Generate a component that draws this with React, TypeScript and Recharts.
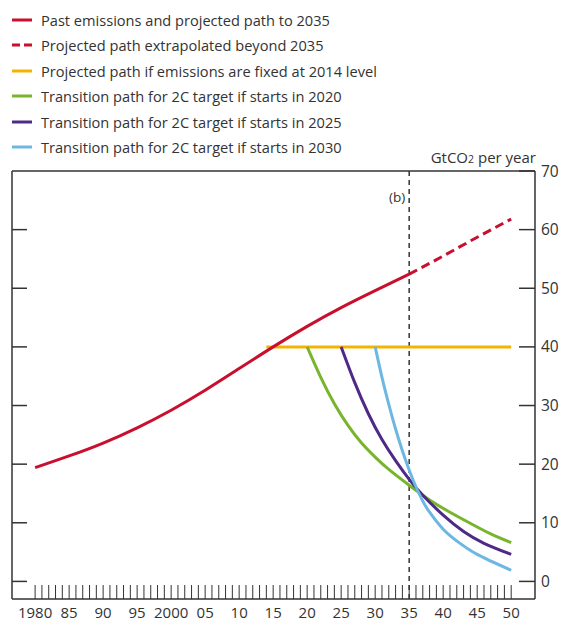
import { LineChart, Line, XAxis, YAxis, ReferenceLine } from 'recharts';

// emissions, GtCO2 per year
const pastYears = [1980, 1985, 1990, 1995, 2000, 2005, 2010, 2015, 2020, 2025, 2030, 2035];
const pastValues = [19.4, 21.4, 23.6, 26.2, 29.2, 32.6, 36.3, 40.0, 43.5, 46.7, 49.6, 52.4];

const extrapYears = [2035, 2040, 2045, 2050];
const extrapValues = [52.4, 55.5, 58.7, 61.8];

const fixedYears = [2014, 2050];
const fixedValues = [40, 40];

const start2020Years = [2020, 2022, 2024, 2026, 2028, 2030, 2032, 2035, 2038, 2041, 2044, 2047, 2050];
const start2020Values = [40.0, 34.8, 30.3, 26.6, 23.6, 21.2, 19.1, 16.4, 13.9, 11.8, 9.9, 8.1, 6.6];

const start2025Years = [2025, 2027, 2029, 2031, 2033, 2035, 2037, 2040, 2043, 2046, 2050];
const start2025Values = [40.0, 33.9, 28.6, 24.2, 20.6, 17.4, 14.7, 11.3, 8.5, 6.5, 4.6];

const start2030Years = [2030, 2031, 2032, 2033, 2034, 2035, 2036, 2037, 2038, 2040, 2042, 2045, 2050];
const start2030Values = [40.0, 34.8, 30.2, 26.0, 22.3, 19.0, 16.1, 13.7, 11.8, 8.9, 6.9, 4.6, 1.9];

const yearTicks = Array.from({ length: 71 }, (_, i) => 1980 + i);
const leftTicks = [0, 10, 20, 30, 40, 50, 60];
const rightTicks = [0, 10, 20, 30, 40, 50, 60, 70];

const RED = '#c8102e';
const YELLOW = '#f5b301';
const GREEN = '#78b52d';
const PURPLE = '#4e2a87';
const BLUE = '#6cb8e2';
const INK = '#333333';

const toPoints = (xs: number[], ys: number[]) => xs.map((year, i) => ({ year, value: ys[i] }));

const legendItems = [
    { label: 'Past emissions and projected path to 2035', color: RED, dashed: false },
    { label: 'Projected path extrapolated beyond 2035', color: RED, dashed: true },
    { label: 'Projected path if emissions are fixed at 2014 level', color: YELLOW, dashed: false },
    { label: 'Transition path for 2C target if starts in 2020', color: GREEN, dashed: false },
    { label: 'Transition path for 2C target if starts in 2025', color: PURPLE, dashed: false },
    { label: 'Transition path for 2C target if starts in 2030', color: BLUE, dashed: false },
];

const yearLabel = (y: number) => {
    if (y === 1980 || y === 2000) return String(y);
    return String(y % 100).padStart(2, '0');
};

const BottomTick = ({ x, y, payload }: any) => {
    const yr = payload.value;
    return (
        <g>
            <line x1={x} x2={x} y1={y} y2={y - 14} stroke={INK} strokeWidth={1} />
            {yr % 5 === 0 && (
                <text x={x} y={y + 19} textAnchor="middle" fontSize={15} fill={INK} fontFamily="Open Sans">
                    {yearLabel(yr)}
                </text>
            )}
        </g>
    );
};

const LeftTick = ({ x, y }: any) => (
    <line x1={x} x2={x + 15} y1={y} y2={y} stroke={INK} strokeWidth={1.5} />
);

const RightTick = ({ x, y, payload }: any) => (
    <g>
        <line x1={x - 16} x2={x} y1={y} y2={y} stroke={INK} strokeWidth={1.5} />
        <text x={x + 6} y={y} dy={5.5} textAnchor="start" fontSize={15.5} fill={INK} fontFamily="Open Sans">
            {payload.value}
        </text>
    </g>
);

const BLabel = ({ viewBox }: any) => (
    <text x={viewBox.x - 4} y={viewBox.y + 31} textAnchor="end" fontSize={13.5} fill={INK} fontFamily="Open Sans">
        (b)
    </text>
);

export default function App() {
    return (
        <div style={{ position: 'absolute', left: 0, top: 0, width: 563, height: 621, background: '#fff', fontFamily: 'Open Sans' }}>
            {legendItems.map((item, i) => (
                <div
                    key={i}
                    style={{ position: 'absolute', left: 12, top: 20 + i * 25.4 - 10, height: 20, display: 'flex', alignItems: 'center' }}
                >
                    <svg width={20} height={4} style={{ marginRight: 9 }}>
                        <line
                            x1={0} x2={20} y1={2} y2={2}
                            stroke={item.color}
                            strokeWidth={3}
                            strokeDasharray={item.dashed ? '8 4' : undefined}
                        />
                    </svg>
                    <span style={{ fontSize: 14.6, color: INK, whiteSpace: 'nowrap' }}>{item.label}</span>
                </div>
            ))}
            <div style={{ position: 'absolute', right: 27, top: 147, fontSize: 15, color: INK, whiteSpace: 'nowrap' }}>
                GtCO<span style={{ fontSize: 10.5 }}>2</span> per year
            </div>

            <div style={{ position: 'absolute', left: 0, top: 0 }}>
                <LineChart width={563} height={621} margin={{ top: 171, right: 27, bottom: 21, left: 11 }}>
                    <XAxis
                        type="number"
                        dataKey="year"
                        domain={[1976.6, 2053.5]}
                        allowDataOverflow
                        ticks={yearTicks}
                        interval={0}
                        height={1}
                        tickSize={0}
                        tickMargin={0}
                        tickLine={false}
                        axisLine={{ stroke: INK, strokeWidth: 1.5 }}
                        tick={<BottomTick />}
                    />
                    <YAxis
                        yAxisId="left"
                        type="number"
                        domain={[-3, 70]}
                        allowDataOverflow
                        ticks={leftTicks}
                        interval={0}
                        width={1}
                        tickSize={0}
                        tickMargin={0}
                        tickLine={false}
                        axisLine={{ stroke: INK, strokeWidth: 1.5 }}
                        tick={<LeftTick />}
                    />
                    <YAxis
                        yAxisId="right"
                        orientation="right"
                        type="number"
                        domain={[-3, 70]}
                        allowDataOverflow
                        ticks={rightTicks}
                        interval={0}
                        width={1}
                        tickSize={0}
                        tickMargin={0}
                        tickLine={false}
                        axisLine={{ stroke: INK, strokeWidth: 1.5 }}
                        tick={<RightTick />}
                    />
                    <ReferenceLine yAxisId="left" y={70} stroke={INK} strokeWidth={1.5} />
                    <ReferenceLine
                        yAxisId="left"
                        x={2035}
                        stroke={INK}
                        strokeWidth={1.5}
                        strokeDasharray="5 4"
                        label={<BLabel />}
                    />

                    <Line yAxisId="left" data={toPoints(fixedYears, fixedValues)} dataKey="value" type="linear"
                        stroke={YELLOW} strokeWidth={3} dot={false} isAnimationActive={false} />
                    <Line yAxisId="left" data={toPoints(pastYears, pastValues)} dataKey="value" type="natural"
                        stroke={RED} strokeWidth={3} dot={false} isAnimationActive={false} />
                    <Line yAxisId="left" data={toPoints(extrapYears, extrapValues)} dataKey="value" type="natural"
                        stroke={RED} strokeWidth={3} strokeDasharray="9 5" dot={false} isAnimationActive={false} />
                    <Line yAxisId="left" data={toPoints(start2020Years, start2020Values)} dataKey="value" type="natural"
                        stroke={GREEN} strokeWidth={3} dot={false} isAnimationActive={false} />
                    <Line yAxisId="left" data={toPoints(start2025Years, start2025Values)} dataKey="value" type="natural"
                        stroke={PURPLE} strokeWidth={3} dot={false} isAnimationActive={false} />
                    <Line yAxisId="left" data={toPoints(start2030Years, start2030Values)} dataKey="value" type="natural"
                        stroke={BLUE} strokeWidth={3} dot={false} isAnimationActive={false} />
                </LineChart>
            </div>
        </div>
    );
}
